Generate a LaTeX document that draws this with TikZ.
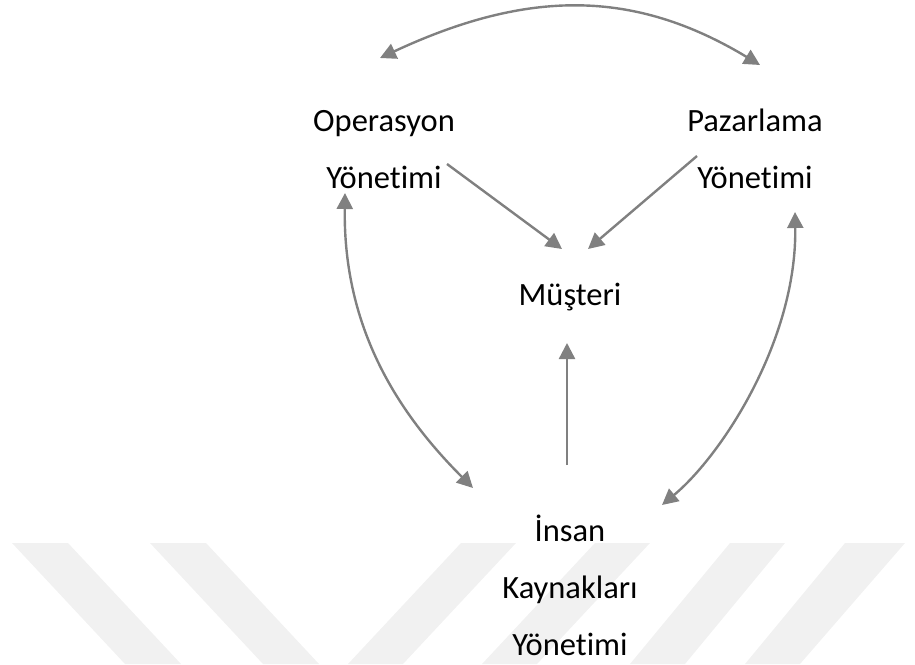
\documentclass[tikz,border=0pt]{standalone}
\usepackage{fontspec}
\setmainfont[Ligatures=NoCommon]{Carlito}
\usetikzlibrary{calc}
\usetikzlibrary{arrows.meta}
\definecolor{arrgray}{HTML}{808080}
\definecolor{wmgray}{HTML}{F1F1F1}

\begin{document}
\begin{tikzpicture}[x=1pt, y=-1pt,
    lbl/.style={font=\fontsize{32.5}{57}\selectfont, align=center, inner sep=0pt, anchor=base},
    link/.style={draw=arrgray, line width=2.4pt, -{Triangle[length=16pt, width=16pt]}},
    twoway/.style={link, {Triangle[length=16pt, width=16pt]}-{Triangle[length=16pt, width=16pt]}}]
    
    \useasboundingbox (0, 0) rectangle (915, 664);
    
    % watermark bands
    \fill[wmgray] (12, 543) -- (68, 543) -- (181, 664) -- (125, 664) -- cycle;
    \fill[wmgray] (150, 543) -- (206, 543) -- (319, 664) -- (263, 664) -- cycle;
    \fill[wmgray] (461, 543) -- (516, 543) -- (403, 664) -- (348, 664) -- cycle;
    \fill[wmgray] (595, 543) -- (650, 543) -- (537, 664) -- (482, 664) -- cycle;
    \fill[wmgray] (730, 543) -- (785, 543) -- (685, 664) -- (630, 664) -- cycle;
    \fill[wmgray] (845, 543) -- (905, 543) -- (800, 664) -- (745, 664) -- cycle;
    
    % base anchor sits on the last line
    \node[lbl] (ops) at (384, 188) {Operasyon\\Yönetimi};
    \node[lbl] (mkt) at (755, 188) {Pazarlama\\Yönetimi};
    \node[lbl] (cust) at (570, 305) {Müşteri};
    \node[lbl] (hr) at (570, 655) {İnsan\\Kaynakları\\Yönetimi};
    
    \coordinate (opsTop) at (380, 58);
    \coordinate (mktTop) at (760, 65);
    \coordinate (opsOut) at (447, 164);
    \coordinate (mktOut) at (697, 156);
    \coordinate (custL) at (562, 249);
    \coordinate (custR) at (588, 249);
    \coordinate (custB) at (567, 343);
    \coordinate (hrTop) at (567, 465);
    \coordinate (opsLow) at (345, 193);
    \coordinate (hrL) at (473, 488);
    \coordinate (mktLow) at (795, 212);
    \coordinate (hrR) at (662, 505);
    
    \draw[twoway] (opsTop) .. controls (528, -11) and (634, -11) .. (mktTop);
    \draw[link] (opsOut) -- (custL);
    \draw[link] (mktOut) -- (custR);
    \draw[link] (hrTop) -- (custB);
    \draw[twoway] (opsLow) .. controls (343, 330) and (400, 415) .. (hrL);
    \draw[twoway] (mktLow) .. controls (797, 340) and (722, 455) .. (hrR);
    
\end{tikzpicture}
\end{document}
